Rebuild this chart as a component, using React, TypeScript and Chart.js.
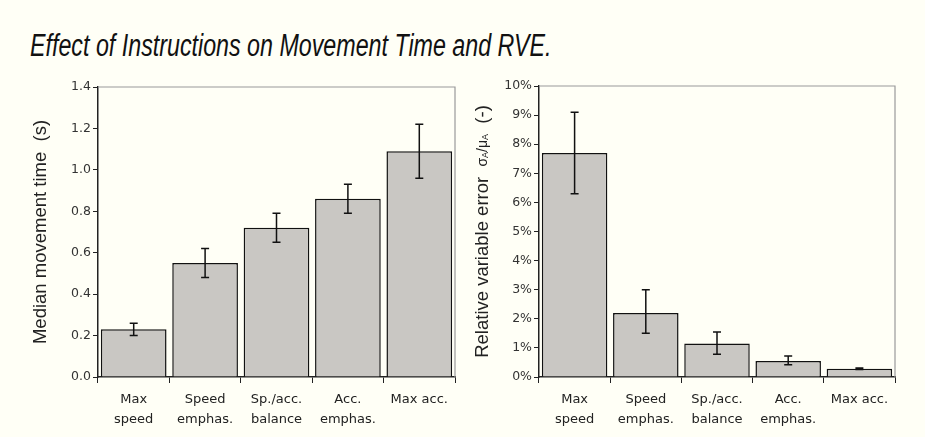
import React, { useEffect, useRef } from "react";
import { Chart, registerables } from "chart.js";
Chart.register(...registerables);

const categories: string[][] = [["Max", "speed"], ["Speed", "emphas."], ["Sp./acc.", "balance"], ["Acc.", "emphas."], ["Max acc."]];

const timeValues = [0.23, 0.55, 0.72, 0.86, 1.09];
const timeLow = [0.2, 0.48, 0.65, 0.79, 0.96];
const timeHigh = [0.26, 0.62, 0.79, 0.93, 1.22];

const rveValues = [7.7, 2.2, 1.15, 0.55, 0.28];
const rveLow = [6.3, 1.5, 0.78, 0.42, 0.26];
const rveHigh = [9.1, 3.0, 1.55, 0.72, 0.31];

const titleText = "Effect of Instructions on Movement Time and RVE.";
const leftAxisTitle = [{ t: "Median movement time  (s)", s: 18.5, dy: 0 }];
const rightAxisTitle = [
  { t: "Relative variable error  ", s: 18.5, dy: 0 },
  { t: "σ", s: 14, dy: 0 },
  { t: "A", s: 9, dy: 3 },
  { t: "/", s: 14, dy: 0 },
  { t: "μ", s: 14, dy: 0 },
  { t: "A", s: 9, dy: 3 },
  { t: "  (-)", s: 18.5, dy: 0 },
];

const BG = "#fffff6";
const FONT = "'Liberation Sans', Arial, sans-serif";
const TICKFONT = "'DejaVu Sans', 'Liberation Sans', sans-serif";

function makePlugin(low: number[], high: number[], segs: { t: string; s: number; dy: number }[], titleX: number) {
  return {
    id: "extras",
    afterDatasetsDraw(chart: any) {
      const ctx = chart.ctx;
      const meta = chart.getDatasetMeta(0);
      const ys = chart.scales.y;
      const a = chart.chartArea;
      ctx.save();
      // plot frame (top & right)
      ctx.strokeStyle = "#9a9a9a";
      ctx.lineWidth = 1.2;
      ctx.beginPath();
      ctx.moveTo(a.left, a.top);
      ctx.lineTo(a.right, a.top);
      ctx.lineTo(a.right, a.bottom);
      ctx.stroke();
      // error bars
      ctx.strokeStyle = "#111";
      ctx.lineWidth = 1.5;
      meta.data.forEach((el: any, i: number) => {
        const x = el.x;
        const y1 = ys.getPixelForValue(low[i]);
        const y2 = ys.getPixelForValue(high[i]);
        ctx.beginPath();
        ctx.moveTo(x, y1);
        ctx.lineTo(x, y2);
        ctx.moveTo(x - 4, y1);
        ctx.lineTo(x + 4, y1);
        ctx.moveTo(x - 4, y2);
        ctx.lineTo(x + 4, y2);
        ctx.stroke();
      });
      // axis title
      const cy = (a.top + a.bottom) / 2;
      ctx.translate(titleX, cy);
      ctx.rotate(-Math.PI / 2);
      ctx.fillStyle = "#222";
      ctx.textBaseline = "middle";
      ctx.textAlign = "left";
      let total = 0;
      segs.forEach((g) => {
        ctx.font = `${g.s}px ${FONT}`;
        total += ctx.measureText(g.t).width;
      });
      let x = -total / 2;
      segs.forEach((g) => {
        ctx.font = `${g.s}px ${FONT}`;
        ctx.fillText(g.t, x, g.dy);
        x += ctx.measureText(g.t).width;
      });
      ctx.restore();
    },
  };
}

function makeConfig(values: number[], low: number[], high: number[], opts: any) {
  return {
    type: "bar" as const,
    data: {
      labels: categories,
      datasets: [
        {
          data: values,
          backgroundColor: "#c9c7c3",
          borderColor: "#111",
          borderWidth: 1.5,
          barPercentage: 0.92,
          categoryPercentage: 1,
        },
      ],
    },
    options: {
      animation: false,
      responsive: false,
      layout: { padding: { top: opts.top, right: opts.right, left: 0, bottom: 0 } },
      plugins: { legend: { display: false }, tooltip: { enabled: false }, title: { display: false } },
      scales: {
        x: {
          afterFit: (s: any) => { s.height = 60; },
          grid: { drawOnChartArea: false, tickLength: 6, color: "#222", offset: true },
          border: { color: "#222", width: 1.5 },
          ticks: { font: { family: TICKFONT, size: 13, lineHeight: 1.5 }, color: "#222", padding: 7, maxRotation: 0 },
        },
        y: {
          min: 0,
          max: opts.max,
          afterFit: (s: any) => { s.width = opts.yw; },
          grid: { drawOnChartArea: false, tickLength: 5, color: "#222" },
          border: { color: "#222", width: 1.5 },
          ticks: {
            stepSize: opts.step,
            font: { family: TICKFONT, size: 12.5 },
            color: "#333",
            padding: 2,
            callback: opts.fmt,
          },
        },
      },
    },
    plugins: [makePlugin(low, high, opts.segs, opts.titleX)],
  };
}

function BarChart({ cfg, left, width }: { cfg: any; left: number; width: number }) {
  const ref = useRef<HTMLCanvasElement>(null);
  useEffect(() => {
    const c = new Chart(ref.current as HTMLCanvasElement, cfg);
    return () => c.destroy();
  }, []);
  return (
    <canvas
      ref={ref}
      width={width}
      height={377}
      style={{ position: "absolute", left, top: 60, width, height: 377, display: "block" }}
    />
  );
}

export default function App() {
  const leftCfg = makeConfig(timeValues, timeLow, timeHigh, {
    top: 27, right: 15, max: 1.4, step: 0.2, yw: 98,
    fmt: (v: number) => v.toFixed(1), segs: leftAxisTitle, titleX: 41,
  });
  const rightCfg = makeConfig(rveValues, rveLow, rveHigh, {
    top: 26, right: 30, max: 10, step: 1, yw: 74,
    fmt: (v: number) => `${v}%`, segs: rightAxisTitle, titleX: 18,
  });
  return (
    <div style={{ position: "fixed", left: 0, top: 0, width: 925, height: 437, background: BG, overflow: "hidden" }}>
      <div
        style={{
          position: "absolute", left: 30, top: 28, fontFamily: FONT, fontStyle: "italic",
          fontSize: 31, color: "#111", whiteSpace: "nowrap", lineHeight: "35px",
          transform: "scaleX(0.75)", transformOrigin: "left top",
        }}
      >
        {titleText}
      </div>
      <BarChart cfg={leftCfg} left={0} width={470} />
      <BarChart cfg={rightCfg} left={465} width={460} />
    </div>
  );
}
